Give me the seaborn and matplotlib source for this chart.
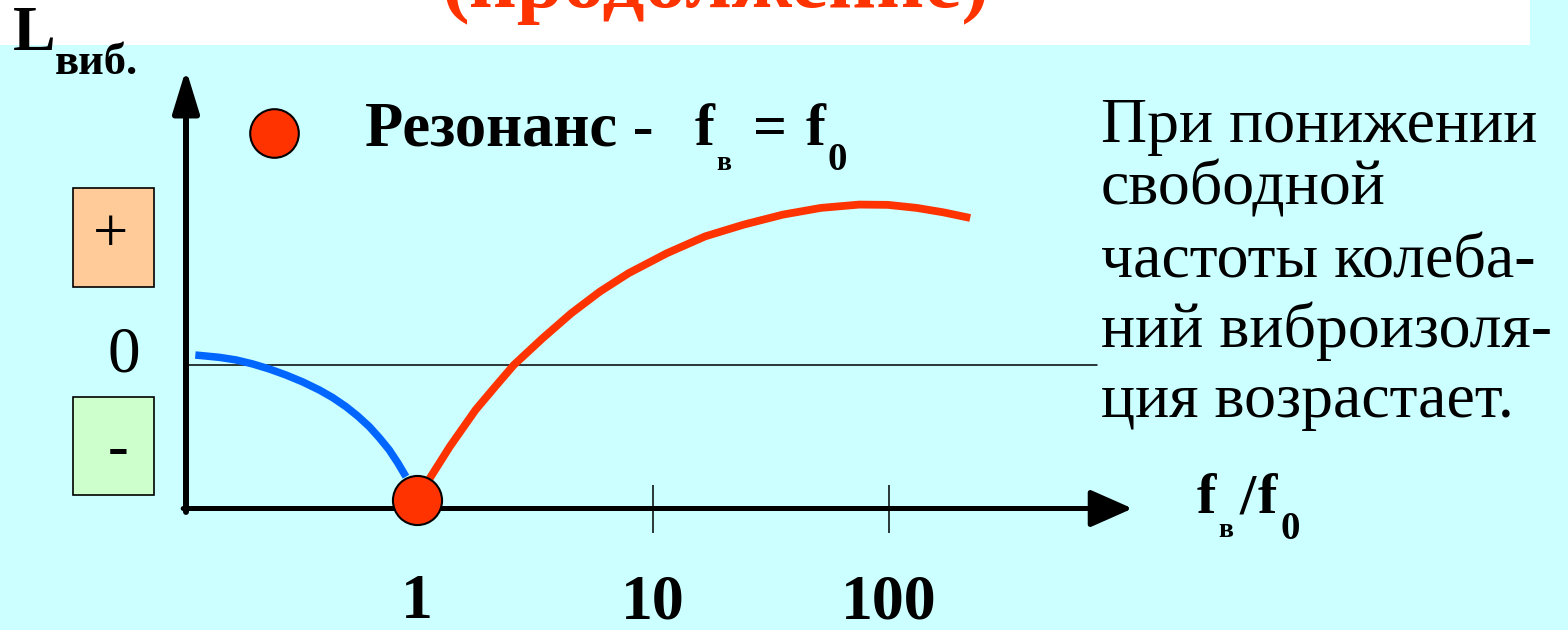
import matplotlib
matplotlib.use("Agg")
import matplotlib.pyplot as plt
from matplotlib.patches import Rectangle
from matplotlib.lines import Line2D
from matplotlib.ticker import NullLocator
import seaborn as sns

# values: f_в/f_0 on a log axis, L_виб. in relative units (0 = zero line)
below_ratio = [0.1150, 0.1276, 0.1453, 0.1710, 0.2012, 0.2366, 0.2786, 0.3279, 0.3855,
               0.4393, 0.5003, 0.5607, 0.6279, 0.6921, 0.7629, 0.8284, 0.8981]
below_level = [0.067, 0.060, 0.051, 0.033, 0.005, -0.030, -0.072, -0.120, -0.176,
               -0.229, -0.292, -0.357, -0.431, -0.508, -0.593, -0.682, -0.779]
above_ratio = [1.121, 1.377, 1.770, 2.134, 2.572, 3.402, 4.502, 5.957, 7.883, 11.46,
               16.64, 24.16, 35.45, 51.51, 74.76, 98.9, 130.9, 170.1, 220.8]
above_level = [-0.802, -0.570, -0.315, -0.157, -0.002, 0.183, 0.357, 0.508, 0.636, 0.775,
               0.892, 0.973, 1.043, 1.090, 1.113, 1.111, 1.090, 1.059, 1.020]
resonance_ratio = [1.0]
resonance_level = [-0.94]
tick_ratios = [1, 10, 100]
tick_labels = ["1", "10", "100"]
note_lines = ["При понижении", "свободной", "частоты колеба-", "ний виброизоля-", "ция возрастает."]

BG = "#CCFFFF"
RED = "#FF3300"
BLUE = "#0066FF"
W, H = 1568, 630

sns.set_theme(style="white")
plt.rcParams["font.family"] = ["Liberation Serif", "DejaVu Serif"]
plt.rcParams["text.color"] = "black"
plt.rcParams["xtick.color"] = "black"
plt.rcParams["xtick.labelcolor"] = "black"


def fx(x):
    return x / W


def fy(y):
    return 1 - y / H


fig = plt.figure(figsize=(W / 100, H / 100), dpi=100)
fig.patch.set_facecolor(BG)

# white band at the top with the cut-off heading
fig.add_artist(Rectangle((0, fy(45)), fx(1530), 45 / H, transform=fig.transFigure,
                         facecolor="white", edgecolor="none", zorder=0))
fig.text(fx(715), fy(7), "(продолжение)", color=RED, fontsize=60, fontweight="bold",
         ha="center", va="baseline")

# main axes: log x from ~0.1 to 1000, level from -1 to 2
ax = fig.add_axes([fx(186), fy(508.5), fx(1125) - fx(186), (508.5 - 77) / H])
ax.set_facecolor("none")
ax.set_xscale("log")
ax.set_xlim(0.105, 1000)
ax.set_ylim(-1, 2)
for s in ax.spines.values():
    s.set_visible(False)
ax.set_yticks([])

ax.axhline(0, xmin=0, xmax=(1097 - 186) / (1125 - 186), color="black", lw=1.1)

sns.lineplot(x=below_ratio, y=below_level, color=BLUE, lw=5.4, ax=ax,
             solid_capstyle="butt", solid_joinstyle="round", zorder=3)
sns.lineplot(x=above_ratio, y=above_level, color=RED, lw=5.6, ax=ax,
             solid_capstyle="butt", solid_joinstyle="round", zorder=3)
sns.scatterplot(x=resonance_ratio, y=resonance_level, s=1250, color=RED,
                edgecolor="black", linewidth=1.5, ax=ax, zorder=5, clip_on=False)

# arrowed axes
ax.annotate("", xy=(0, 1.018), xytext=(0, -0.008), xycoords="axes fraction",
            arrowprops=dict(arrowstyle="-|>,head_length=26,head_width=8", mutation_scale=1,
                            lw=4.3, color="black", shrinkA=0, shrinkB=0))
ax.annotate("", xy=(1.008, 0), xytext=(-0.003, 0), xycoords="axes fraction",
            arrowprops=dict(arrowstyle="-|>,head_length=26,head_width=11.5", mutation_scale=1,
                            lw=3.6, color="black", shrinkA=0, shrinkB=0))

ax.set_xticks(tick_ratios, tick_labels, fontsize=46, fontweight="bold")
ax.xaxis.set_minor_locator(NullLocator())
ax.tick_params(axis="x", direction="inout", length=34.5, width=1.1, color="black",
               pad=30, bottom=True)
ax.xaxis.get_major_ticks()[0].tick1line.set_visible(False)

# y axis caption
fig.text(fx(13), fy(50), "L", fontsize=46, fontweight="bold", va="baseline")
fig.text(fx(55), fy(74), "виб.", fontsize=32, fontweight="bold", va="baseline")
fig.text(fx(124), fy(371), "0", fontsize=47, ha="center", va="baseline")

# +/- boxes
fig.add_artist(Rectangle((fx(73), fy(287)), fx(81), 99 / H, transform=fig.transFigure,
                         facecolor="#FFCC99", edgecolor="black", lw=1.2))
fig.text(fx(110.5), fy(237), "+", fontsize=45, ha="center", va="center")
fig.add_artist(Rectangle((fx(73), fy(495)), fx(81), 98 / H, transform=fig.transFigure,
                         facecolor="#CCFFCC", edgecolor="black", lw=1.2))
fig.text(fx(118.5), fy(451), "-", fontsize=45, fontweight="bold", ha="center", va="center")

# resonance key
fig.add_artist(Line2D([fx(274)], [fy(133)], marker="o", ms=35, color=RED,
                      markeredgecolor="black", markeredgewidth=1.5, transform=fig.transFigure))
fig.text(fx(365), fy(145), "Резонанс -", fontsize=45, fontweight="bold", va="baseline")
fig.text(fx(695), fy(145), "f", fontsize=43, fontweight="bold", va="baseline")
fig.text(fx(716), fy(170), "в", fontsize=20, fontweight="bold", va="baseline")
fig.text(fx(753), fy(145), "=", fontsize=43, fontweight="bold", va="baseline")
fig.text(fx(806), fy(145), "f", fontsize=43, fontweight="bold", va="baseline")
fig.text(fx(828), fy(170), "0", fontsize=28, fontweight="bold", va="baseline")

# x axis caption
fig.text(fx(1197), fy(513), "f", fontsize=42, fontweight="bold", va="baseline")
fig.text(fx(1218), fy(537), "в", fontsize=20, fontweight="bold", va="baseline")
fig.text(fx(1240), fy(513), "/", fontsize=42, fontweight="bold", va="baseline")
fig.text(fx(1258), fy(513), "f", fontsize=42, fontweight="bold", va="baseline")
fig.text(fx(1280), fy(539), "0", fontsize=28, fontweight="bold", va="baseline")

# note on the right
for line, base in zip(note_lines, [142, 205, 277, 347, 417]):
    fig.text(fx(1101), fy(base), line, fontsize=46, va="baseline")

fig.savefig("out.png", dpi=100, facecolor=BG)
